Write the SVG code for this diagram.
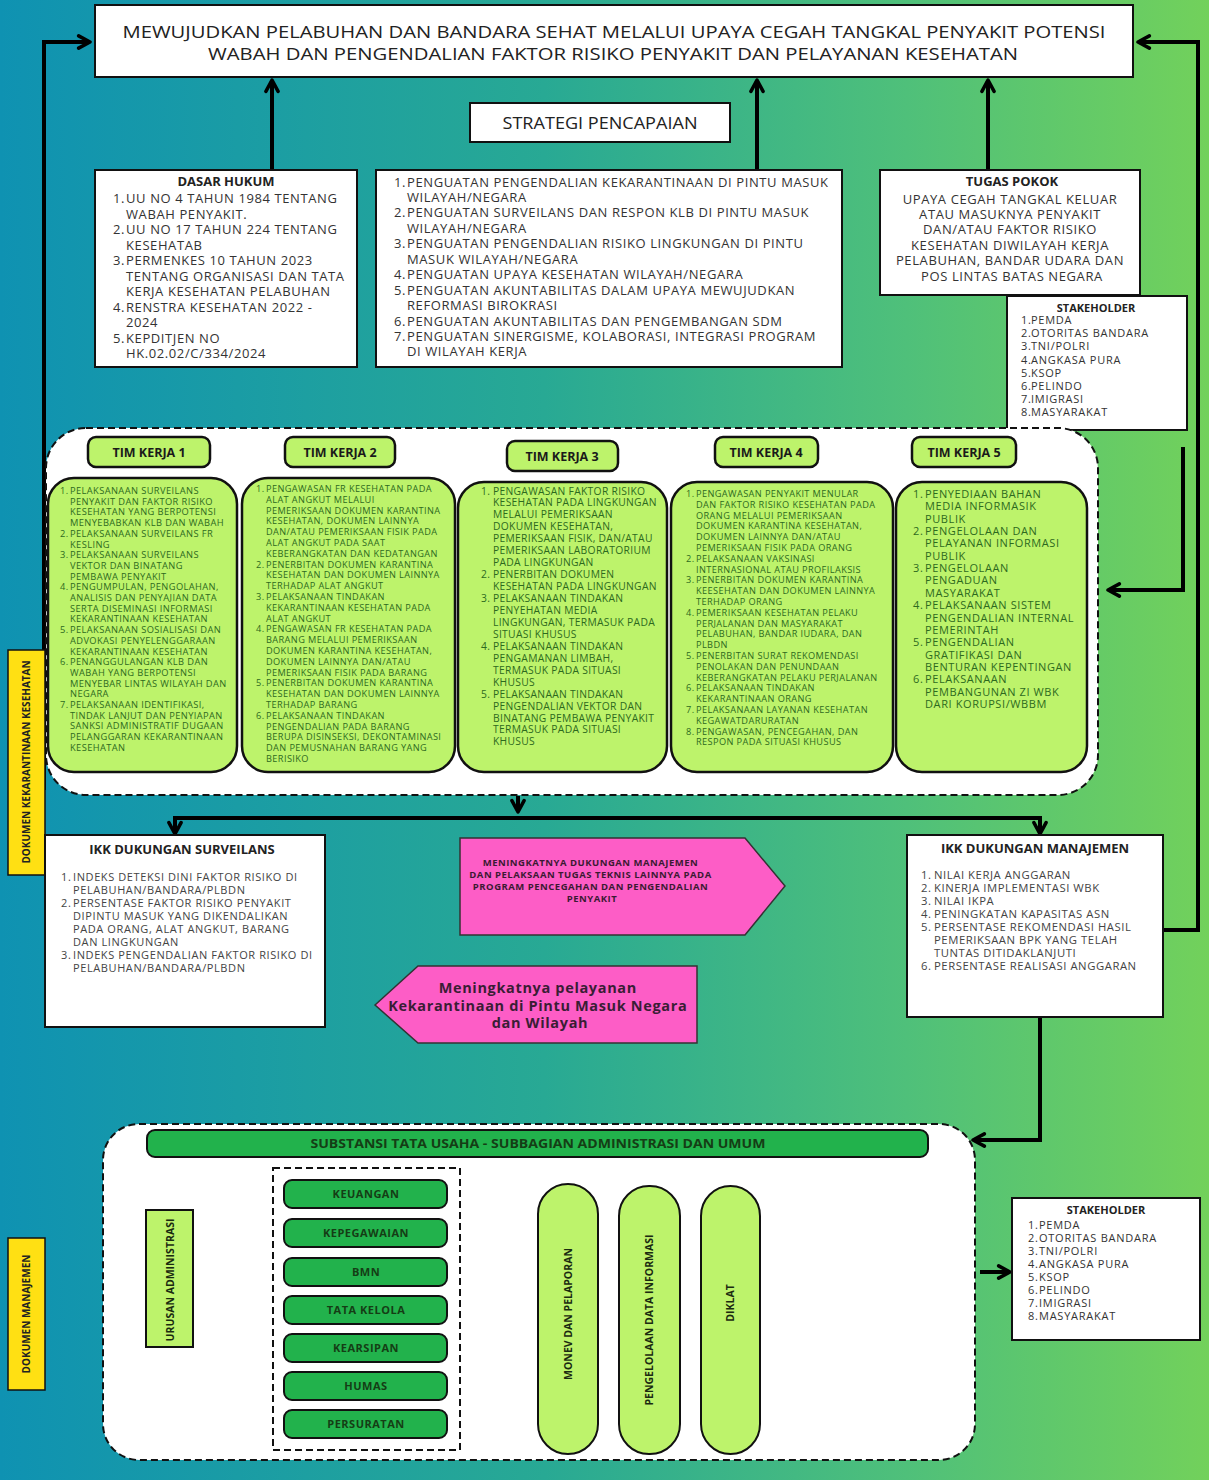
<svg xmlns="http://www.w3.org/2000/svg" width="1209" height="1480" viewBox="0 0 1209 1480">
<defs>
<linearGradient id="bg" x1="0" y1="0" x2="1" y2="0">
<stop offset="0" stop-color="#0f92b2"/>
<stop offset="0.45" stop-color="#28a994"/>
<stop offset="0.75" stop-color="#4fc07a"/>
<stop offset="1" stop-color="#72d15b"/>
</linearGradient>
<marker id="ah" viewBox="0 0 10 10" refX="8.6" refY="5" markerUnits="userSpaceOnUse" markerWidth="16" markerHeight="16" orient="auto">
<path d="M1.5,1.2 L8.6,5 L1.5,8.8" fill="none" stroke="#000" stroke-width="2.2" stroke-linecap="round" stroke-linejoin="round"/>
</marker>
<style>
text{font-family:"Open Sans","Liberation Sans",sans-serif;}
.box{fill:#fff;stroke:#111;stroke-width:2;}
.dash{fill:#fff;stroke:#111;stroke-width:2;stroke-dasharray:7 4;}
.tk{fill:#bdf36b;stroke:#111;stroke-width:2.5;}
.g{fill:#22b24c;stroke:#111;stroke-width:2;}
.lg{fill:#bdf36b;stroke:#111;stroke-width:2;}
.yl{fill:#ffe013;stroke:#111;stroke-width:1.5;}
.pk{fill:#fd5dc6;stroke:#333;stroke-width:1.5;}
.con{fill:none;stroke:#000;stroke-width:4;stroke-linejoin:miter;}
.t13{font-size:13px;fill:#333;letter-spacing:0.6px;}
.hd{font-size:13px;font-weight:bold;fill:#222;}
.tkh{font-size:12.5px;font-weight:bold;fill:#1a1a1a;}
.tkl{fill:#2d6a1e;}
.sh{font-size:11px;fill:#333;letter-spacing:0.75px;}
.ikk{fill:#444;}
.gt{font-size:11px;font-weight:bold;fill:#153d15;letter-spacing:0.5px;}
.vt{font-size:10.5px;font-weight:bold;fill:#1a2a10;}
</style>
</defs>
<rect x="0" y="0" width="1209" height="1480" fill="url(#bg)"/>

<g id="connectors">
<path class="con" d="M44,790 V42 H90" marker-end="url(#ah)"/>
<path class="con" d="M1163,930 H1198 V42 H1138" marker-end="url(#ah)"/>
<path class="con" d="M1183,447 V590 H1108" marker-end="url(#ah)"/>
<path class="con" d="M272,170 V80" marker-end="url(#ah)"/>
<path class="con" d="M757,170 V80" marker-end="url(#ah)"/>
<path class="con" d="M988,170 V80" marker-end="url(#ah)"/>
<path class="con" d="M518,796 V812" marker-end="url(#ah)"/>
<path class="con" d="M175,818 H1040"/>
<path class="con" d="M175,816 V834" marker-end="url(#ah)"/>
<path class="con" d="M1040,816 V834" marker-end="url(#ah)"/>
<path class="con" d="M1040,1017 V1140 H973" marker-end="url(#ah)"/>
<path class="con" d="M980,1272 H1010" marker-end="url(#ah)"/>
<path class="con" d="M272,1290 H198" marker-end="url(#ah)"/>
</g>

<g id="title">
<rect class="box" x="95" y="5" width="1038" height="72"/>
<text x="614" y="37.5" text-anchor="middle" font-size="16.5" fill="#222" textLength="983" lengthAdjust="spacingAndGlyphs">MEWUJUDKAN PELABUHAN DAN BANDARA SEHAT MELALUI UPAYA CEGAH TANGKAL PENYAKIT POTENSI</text>
<text x="613" y="60" text-anchor="middle" font-size="16.5" fill="#222" textLength="810" lengthAdjust="spacingAndGlyphs">WABAH DAN PENGENDALIAN FAKTOR RISIKO PENYAKIT DAN PELAYANAN KESEHATAN</text>
</g>

<g id="strategi">
<rect class="box" x="470" y="103" width="260" height="39"/>
<text x="600" y="129" text-anchor="middle" font-size="16.5" fill="#222" textLength="195" lengthAdjust="spacingAndGlyphs">STRATEGI PENCAPAIAN</text>
</g>

<g id="dasar-hukum">
<rect class="box" x="95" y="170" width="262" height="197"/>
<text class="hd" x="226" y="186" text-anchor="middle">DASAR HUKUM</text>
<text class="t13" y="203">
<tspan x="113">1.</tspan><tspan x="126">UU NO 4 TAHUN 1984 TENTANG</tspan>
<tspan x="126" dy="15.5">WABAH PENYAKIT.</tspan>
<tspan x="113" dy="15.5">2.</tspan><tspan x="126">UU NO 17 TAHUN 224 TENTANG</tspan>
<tspan x="126" dy="15.5">KESEHATAB</tspan>
<tspan x="113" dy="15.5">3.</tspan><tspan x="126">PERMENKES 10 TAHUN 2023</tspan>
<tspan x="126" dy="15.5">TENTANG ORGANISASI DAN TATA</tspan>
<tspan x="126" dy="15.5">KERJA KESEHATAN PELABUHAN</tspan>
<tspan x="113" dy="15.5">4.</tspan><tspan x="126">RENSTRA KESEHATAN 2022 -</tspan>
<tspan x="126" dy="15.5">2024</tspan>
<tspan x="113" dy="15.5">5.</tspan><tspan x="126">KEPDITJEN NO</tspan>
<tspan x="126" dy="15.5">HK.02.02/C/334/2024</tspan>
</text>
</g>

<g id="strategi-list">
<rect class="box" x="376" y="170" width="466" height="197"/>
<text class="t13" y="186.5">
<tspan x="394">1.</tspan><tspan x="407">PENGUATAN PENGENDALIAN KEKARANTINAAN DI PINTU MASUK</tspan>
<tspan x="407" dy="15.45">WILAYAH/NEGARA</tspan>
<tspan x="394" dy="15.45">2.</tspan><tspan x="407">PENGUATAN SURVEILANS DAN RESPON KLB DI PINTU MASUK</tspan>
<tspan x="407" dy="15.45">WILAYAH/NEGARA</tspan>
<tspan x="394" dy="15.45">3.</tspan><tspan x="407">PENGUATAN PENGENDALIAN RISIKO LINGKUNGAN DI PINTU</tspan>
<tspan x="407" dy="15.45">MASUK WILAYAH/NEGARA</tspan>
<tspan x="394" dy="15.45">4.</tspan><tspan x="407">PENGUATAN UPAYA KESEHATAN WILAYAH/NEGARA</tspan>
<tspan x="394" dy="15.45">5.</tspan><tspan x="407">PENGUATAN AKUNTABILITAS DALAM UPAYA MEWUJUDKAN</tspan>
<tspan x="407" dy="15.45">REFORMASI BIROKRASI</tspan>
<tspan x="394" dy="15.45">6.</tspan><tspan x="407">PENGUATAN AKUNTABILITAS DAN PENGEMBANGAN SDM</tspan>
<tspan x="394" dy="15.45">7.</tspan><tspan x="407">PENGUATAN SINERGISME, KOLABORASI, INTEGRASI PROGRAM</tspan>
<tspan x="407" dy="15.45">DI WILAYAH KERJA</tspan>
</text>
</g>

<g id="tugas-pokok">
<rect class="box" x="880" y="170" width="260" height="125"/>
<text class="hd" x="1012" y="186" text-anchor="middle">TUGAS POKOK</text>
<text class="t13" y="203.5" text-anchor="middle">
<tspan x="1012">UPAYA CEGAH TANGKAL KELUAR</tspan>
<tspan x="1012" dy="15.4">ATAU MASUKNYA PENYAKIT</tspan>
<tspan x="1012" dy="15.4">DAN/ATAU FAKTOR RISIKO</tspan>
<tspan x="1012" dy="15.4">KESEHATAN DIWILAYAH KERJA</tspan>
<tspan x="1012" dy="15.4">PELABUHAN, BANDAR UDARA DAN</tspan>
<tspan x="1012" dy="15.4">POS LINTAS BATAS NEGARA</tspan>
</text>
</g>

<g id="stakeholder-top">
<rect class="box" x="1007" y="296" width="180" height="134"/>
<text x="1096" y="311.6" text-anchor="middle" font-size="11" font-weight="bold" fill="#222">STAKEHOLDER</text>
<text class="sh" y="324.2">
<tspan x="1021">1.</tspan><tspan x="1031">PEMDA</tspan>
<tspan x="1021" dy="13.1">2.</tspan><tspan x="1031">OTORITAS BANDARA</tspan>
<tspan x="1021" dy="13.1">3.</tspan><tspan x="1031">TNI/POLRI</tspan>
<tspan x="1021" dy="13.1">4.</tspan><tspan x="1031">ANGKASA PURA</tspan>
<tspan x="1021" dy="13.1">5.</tspan><tspan x="1031">KSOP</tspan>
<tspan x="1021" dy="13.1">6.</tspan><tspan x="1031">PELINDO</tspan>
<tspan x="1021" dy="13.1">7.</tspan><tspan x="1031">IMIGRASI</tspan>
<tspan x="1021" dy="13.1">8.</tspan><tspan x="1031">MASYARAKAT</tspan>
</text>
</g>

<g id="tim-kerja-container">
<rect class="dash" x="46" y="428" width="1052" height="367" rx="40"/>
</g>

<g id="tim-kerja-1">
<rect class="tk" x="88" y="437" width="122" height="30" rx="8"/>
<text class="tkh" x="149" y="456.5" text-anchor="middle">TIM KERJA 1</text>
<rect class="tk" x="48" y="478" width="189" height="294" rx="26"/>
<text class="tkl" font-size="9.3" letter-spacing="0.4" y="494">
<tspan x="60">1.</tspan><tspan x="70">PELAKSANAAN SURVEILANS</tspan>
<tspan x="70" dy="10.7">PENYAKIT DAN FAKTOR RISIKO</tspan>
<tspan x="70" dy="10.7">KESEHATAN YANG BERPOTENSI</tspan>
<tspan x="70" dy="10.7">MENYEBABKAN KLB DAN WABAH</tspan>
<tspan x="60" dy="10.7">2.</tspan><tspan x="70">PELAKSANAAN SURVEILANS FR</tspan>
<tspan x="70" dy="10.7">KESLING</tspan>
<tspan x="60" dy="10.7">3.</tspan><tspan x="70">PELAKSANAAN SURVEILANS</tspan>
<tspan x="70" dy="10.7">VEKTOR DAN BINATANG</tspan>
<tspan x="70" dy="10.7">PEMBAWA PENYAKIT</tspan>
<tspan x="60" dy="10.7">4.</tspan><tspan x="70">PENGUMPULAN, PENGOLAHAN,</tspan>
<tspan x="70" dy="10.7">ANALISIS DAN PENYAJIAN DATA</tspan>
<tspan x="70" dy="10.7">SERTA DISEMINASI INFORMASI</tspan>
<tspan x="70" dy="10.7">KEKARANTINAAN KESEHATAN</tspan>
<tspan x="60" dy="10.7">5.</tspan><tspan x="70">PELAKSANAAN SOSIALISASI DAN</tspan>
<tspan x="70" dy="10.7">ADVOKASI PENYELENGGARAAN</tspan>
<tspan x="70" dy="10.7">KEKARANTINAAN KESEHATAN</tspan>
<tspan x="60" dy="10.7">6.</tspan><tspan x="70">PENANGGULANGAN KLB DAN</tspan>
<tspan x="70" dy="10.7">WABAH YANG BERPOTENSI</tspan>
<tspan x="70" dy="10.7">MENYEBAR LINTAS WILAYAH DAN</tspan>
<tspan x="70" dy="10.7">NEGARA</tspan>
<tspan x="60" dy="10.7">7.</tspan><tspan x="70">PELAKSANAAN IDENTIFIKASI,</tspan>
<tspan x="70" dy="10.7">TINDAK LANJUT DAN PENYIAPAN</tspan>
<tspan x="70" dy="10.7">SANKSI ADMINISTRATIF  DUGAAN</tspan>
<tspan x="70" dy="10.7">PELANGGARAN KEKARANTINAAN</tspan>
<tspan x="70" dy="10.7">KESEHATAN</tspan>
</text>
</g>

<g id="tim-kerja-2">
<rect class="tk" x="285" y="437" width="110" height="30" rx="8"/>
<text class="tkh" x="340" y="456.5" text-anchor="middle">TIM KERJA 2</text>
<rect class="tk" x="242" y="478" width="213" height="294" rx="26"/>
<text class="tkl" font-size="9.2" letter-spacing="0.4" y="492">
<tspan x="256">1.</tspan><tspan x="266">PENGAWASAN FR KESEHATAN PADA</tspan>
<tspan x="266" dy="10.8">ALAT ANGKUT MELALUI</tspan>
<tspan x="266" dy="10.8">PEMERIKSAAN DOKUMEN KARANTINA</tspan>
<tspan x="266" dy="10.8">KESEHATAN, DOKUMEN LAINNYA</tspan>
<tspan x="266" dy="10.8">DAN/ATAU PEMERIKSAAN FISIK PADA</tspan>
<tspan x="266" dy="10.8">ALAT ANGKUT PADA SAAT</tspan>
<tspan x="266" dy="10.8">KEBERANGKATAN DAN KEDATANGAN</tspan>
<tspan x="256" dy="10.8">2.</tspan><tspan x="266">PENERBITAN DOKUMEN KARANTINA</tspan>
<tspan x="266" dy="10.8">KESEHATAN DAN DOKUMEN LAINNYA</tspan>
<tspan x="266" dy="10.8">TERHADAP ALAT ANGKUT</tspan>
<tspan x="256" dy="10.8">3.</tspan><tspan x="266">PELAKSANAAN TINDAKAN</tspan>
<tspan x="266" dy="10.8">KEKARANTINAAN KESEHATAN PADA</tspan>
<tspan x="266" dy="10.8">ALAT ANGKUT</tspan>
<tspan x="256" dy="10.8">4.</tspan><tspan x="266">PENGAWASAN FR KESEHATAN PADA</tspan>
<tspan x="266" dy="10.8">BARANG MELALUI PEMERIKSAAN</tspan>
<tspan x="266" dy="10.8">DOKUMEN KARANTINA KESEHATAN,</tspan>
<tspan x="266" dy="10.8">DOKUMEN LAINNYA DAN/ATAU</tspan>
<tspan x="266" dy="10.8">PEMERIKSAAN FISIK PADA BARANG</tspan>
<tspan x="256" dy="10.8">5.</tspan><tspan x="266">PENERBITAN DOKUMEN KARANTINA</tspan>
<tspan x="266" dy="10.8">KESEHATAN DAN DOKUMEN LAINNYA</tspan>
<tspan x="266" dy="10.8">TERHADAP BARANG</tspan>
<tspan x="256" dy="10.8">6.</tspan><tspan x="266">PELAKSANAAN TINDAKAN</tspan>
<tspan x="266" dy="10.8">PENGENDALIAN PADA BARANG</tspan>
<tspan x="266" dy="10.8">BERUPA DISINSEKSI, DEKONTAMINASI</tspan>
<tspan x="266" dy="10.8">DAN PEMUSNAHAN BARANG YANG</tspan>
<tspan x="266" dy="10.8">BERISIKO</tspan>
</text>
</g>

<g id="tim-kerja-3">
<rect class="tk" x="507" y="441" width="111" height="30" rx="8"/>
<text class="tkh" x="562" y="460.5" text-anchor="middle">TIM KERJA 3</text>
<rect class="tk" x="458" y="482" width="209" height="290" rx="26"/>
<text class="tkl" font-size="10.3" letter-spacing="0.3" y="494.5">
<tspan x="481">1.</tspan><tspan x="493">PENGAWASAN FAKTOR RISIKO</tspan>
<tspan x="493" dy="11.95">KESEHATAN PADA LINGKUNGAN</tspan>
<tspan x="493" dy="11.95">MELALUI PEMERIKSAAN</tspan>
<tspan x="493" dy="11.95">DOKUMEN KESEHATAN,</tspan>
<tspan x="493" dy="11.95">PEMERIKSAAN FISIK, DAN/ATAU</tspan>
<tspan x="493" dy="11.95">PEMERIKSAAN LABORATORIUM</tspan>
<tspan x="493" dy="11.95">PADA LINGKUNGAN</tspan>
<tspan x="481" dy="11.95">2.</tspan><tspan x="493">PENERBITAN DOKUMEN</tspan>
<tspan x="493" dy="11.95">KESEHATAN PADA LINGKUNGAN</tspan>
<tspan x="481" dy="11.95">3.</tspan><tspan x="493">PELAKSANAAN TINDAKAN</tspan>
<tspan x="493" dy="11.95">PENYEHATAN MEDIA</tspan>
<tspan x="493" dy="11.95">LINGKUNGAN, TERMASUK PADA</tspan>
<tspan x="493" dy="11.95">SITUASI KHUSUS</tspan>
<tspan x="481" dy="11.95">4.</tspan><tspan x="493">PELAKSANAAN TINDAKAN</tspan>
<tspan x="493" dy="11.95">PENGAMANAN LIMBAH,</tspan>
<tspan x="493" dy="11.95">TERMASUK PADA SITUASI</tspan>
<tspan x="493" dy="11.95">KHUSUS</tspan>
<tspan x="481" dy="11.95">5.</tspan><tspan x="493">PELAKSANAAN TINDAKAN</tspan>
<tspan x="493" dy="11.95">PENGENDALIAN VEKTOR DAN</tspan>
<tspan x="493" dy="11.95">BINATANG PEMBAWA PENYAKIT</tspan>
<tspan x="493" dy="11.95">TERMASUK PADA SITUASI</tspan>
<tspan x="493" dy="11.95">KHUSUS</tspan>
</text>
</g>

<g id="tim-kerja-4">
<rect class="tk" x="715" y="437" width="103" height="30" rx="8"/>
<text class="tkh" x="766" y="456.5" text-anchor="middle">TIM KERJA 4</text>
<rect class="tk" x="671" y="482" width="222" height="290" rx="26"/>
<text class="tkl" font-size="9.2" letter-spacing="0.4" y="497">
<tspan x="686">1.</tspan><tspan x="696">PENGAWASAN PENYAKIT MENULAR</tspan>
<tspan x="696" dy="10.8">DAN FAKTOR RISIKO KESEHATAN PADA</tspan>
<tspan x="696" dy="10.8">ORANG MELALUI PEMERIKSAAN</tspan>
<tspan x="696" dy="10.8">DOKUMEN KARANTINA KESEHATAN,</tspan>
<tspan x="696" dy="10.8">DOKUMEN LAINNYA DAN/ATAU</tspan>
<tspan x="696" dy="10.8">PEMERIKSAAN FISIK PADA ORANG</tspan>
<tspan x="686" dy="10.8">2.</tspan><tspan x="696">PELAKSANAAN VAKSINASI</tspan>
<tspan x="696" dy="10.8">INTERNASIONAL ATAU PROFILAKSIS</tspan>
<tspan x="686" dy="10.8">3.</tspan><tspan x="696">PENERBITAN DOKUMEN KARANTINA</tspan>
<tspan x="696" dy="10.8">KEESEHATAN DAN DOKUMEN LAINNYA</tspan>
<tspan x="696" dy="10.8">TERHADAP ORANG</tspan>
<tspan x="686" dy="10.8">4.</tspan><tspan x="696">PEMERIKSAAN KESEHATAN PELAKU</tspan>
<tspan x="696" dy="10.8">PERJALANAN DAN MASYARAKAT</tspan>
<tspan x="696" dy="10.8">PELABUHAN, BANDAR IUDARA, DAN</tspan>
<tspan x="696" dy="10.8">PLBDN</tspan>
<tspan x="686" dy="10.8">5.</tspan><tspan x="696">PENERBITAN SURAT REKOMENDASI</tspan>
<tspan x="696" dy="10.8">PENOLAKAN DAN PENUNDAAN</tspan>
<tspan x="696" dy="10.8">KEBERANGKATAN PELAKU PERJALANAN</tspan>
<tspan x="686" dy="10.8">6.</tspan><tspan x="696">PELAKSANAAN TINDAKAN</tspan>
<tspan x="696" dy="10.8">KEKARANTINAAN ORANG</tspan>
<tspan x="686" dy="10.8">7.</tspan><tspan x="696">PELAKSANAAN LAYANAN KESEHATAN</tspan>
<tspan x="696" dy="10.8">KEGAWATDARURATAN</tspan>
<tspan x="686" dy="10.8">8.</tspan><tspan x="696">PENGAWASAN, PENCEGAHAN, DAN</tspan>
<tspan x="696" dy="10.8">RESPON PADA SITUASI KHUSUS</tspan>
</text>
</g>

<g id="tim-kerja-5">
<rect class="tk" x="912" y="437" width="104" height="30" rx="8"/>
<text class="tkh" x="964" y="456.5" text-anchor="middle">TIM KERJA 5</text>
<rect class="tk" x="896" y="482" width="191" height="290" rx="26"/>
<text class="tkl" font-size="11" letter-spacing="0.6" y="498">
<tspan x="913">1.</tspan><tspan x="925">PENYEDIAAN BAHAN</tspan>
<tspan x="925" dy="12.35">MEDIA INFORMASIK</tspan>
<tspan x="925" dy="12.35">PUBLIK</tspan>
<tspan x="913" dy="12.35">2.</tspan><tspan x="925">PENGELOLAAN DAN</tspan>
<tspan x="925" dy="12.35">PELAYANAN INFORMASI</tspan>
<tspan x="925" dy="12.35">PUBLIK</tspan>
<tspan x="913" dy="12.35">3.</tspan><tspan x="925">PENGELOLAAN</tspan>
<tspan x="925" dy="12.35">PENGADUAN</tspan>
<tspan x="925" dy="12.35">MASYARAKAT</tspan>
<tspan x="913" dy="12.35">4.</tspan><tspan x="925">PELAKSANAAN SISTEM</tspan>
<tspan x="925" dy="12.35">PENGENDALIAN INTERNAL</tspan>
<tspan x="925" dy="12.35">PEMERINTAH</tspan>
<tspan x="913" dy="12.35">5.</tspan><tspan x="925">PENGENDALIAN</tspan>
<tspan x="925" dy="12.35">GRATIFIKASI DAN</tspan>
<tspan x="925" dy="12.35">BENTURAN KEPENTINGAN</tspan>
<tspan x="913" dy="12.35">6.</tspan><tspan x="925">PELAKSANAAN</tspan>
<tspan x="925" dy="12.35">PEMBANGUNAN ZI WBK</tspan>
<tspan x="925" dy="12.35">DARI KORUPSI/WBBM</tspan>
</text>
</g>

<g id="label-dokumen-kekarantinaan">
<rect class="yl" x="8" y="650" width="37" height="225"/>
<text x="0" y="0" transform="translate(29.5,762) rotate(-90)" text-anchor="middle" font-size="10" font-weight="bold" fill="#222">DOKUMEN KEKARANTINAAN KESEHATAN</text>
</g>

<g id="ikk-surveilans">
<rect class="box" x="45" y="835" width="280" height="192"/>
<text class="hd" x="182" y="853.5" text-anchor="middle">IKK DUKUNGAN SURVEILANS</text>
<text class="ikk" font-size="11" letter-spacing="0.6" y="881">
<tspan x="61">1.</tspan><tspan x="73">INDEKS DETEKSI DINI FAKTOR RISIKO DI</tspan>
<tspan x="73" dy="13">PELABUHAN/BANDARA/PLBDN</tspan>
<tspan x="61" dy="13">2.</tspan><tspan x="73">PERSENTASE FAKTOR RISIKO PENYAKIT</tspan>
<tspan x="73" dy="13">DIPINTU MASUK YANG DIKENDALIKAN</tspan>
<tspan x="73" dy="13">PADA ORANG, ALAT ANGKUT, BARANG</tspan>
<tspan x="73" dy="13">DAN LINGKUNGAN</tspan>
<tspan x="61" dy="13">3.</tspan><tspan x="73">INDEKS PENGENDALIAN FAKTOR RISIKO DI</tspan>
<tspan x="73" dy="13">PELABUHAN/BANDARA/PLBDN</tspan>
</text>
</g>

<g id="sasaran-manajemen">
<polygon class="pk" points="460,838 745,838 785,886 745,935 460,935"/>
<text font-size="9.5" font-weight="bold" letter-spacing="0.5" fill="#3b1a33" text-anchor="middle" y="865.5">
<tspan x="592">MENINGKATNYA DUKUNGAN MANAJEMEN</tspan>
<tspan x="592" dy="12.3">DAN PELAKSAAN TUGAS TEKNIS LAINNYA PADA</tspan>
<tspan x="592" dy="12.3">PROGRAM PENCEGAHAN DAN PENGENDALIAN</tspan>
<tspan x="592" dy="12.3">PENYAKIT</tspan>
</text>
</g>

<g id="sasaran-pelayanan">
<polygon class="pk" points="375,1005 418,966 697,966 697,1043 418,1043"/>
<text font-size="14.5" font-weight="bold" letter-spacing="0.65" fill="#3a1d35" text-anchor="middle" y="993">
<tspan x="540">Meningkatnya pelayanan</tspan>
<tspan x="540" dy="17.5">Kekarantinaan di Pintu Masuk Negara</tspan>
<tspan x="540" dy="17.5">dan Wilayah</tspan>
</text>
</g>

<g id="ikk-manajemen">
<rect class="box" x="907" y="835" width="256" height="182"/>
<text class="hd" x="1035" y="852.5" text-anchor="middle">IKK DUKUNGAN MANAJEMEN</text>
<text class="ikk" font-size="11.3" letter-spacing="0.55" y="878.5">
<tspan x="921">1.</tspan><tspan x="934">NILAI KERJA ANGGARAN</tspan>
<tspan x="921" dy="13">2.</tspan><tspan x="934">KINERJA IMPLEMENTASI WBK</tspan>
<tspan x="921" dy="13">3.</tspan><tspan x="934">NILAI IKPA</tspan>
<tspan x="921" dy="13">4.</tspan><tspan x="934">PENINGKATAN KAPASITAS ASN</tspan>
<tspan x="921" dy="13">5.</tspan><tspan x="934">PERSENTASE REKOMENDASI HASIL</tspan>
<tspan x="934" dy="13">PEMERIKSAAN BPK YANG TELAH</tspan>
<tspan x="934" dy="13">TUNTAS DITIDAKLANJUTI</tspan>
<tspan x="921" dy="13">6.</tspan><tspan x="934">PERSENTASE REALISASI ANGGARAN</tspan>
</text>
</g>

<g id="tata-usaha-container">
<rect class="dash" x="103" y="1124" width="872" height="336" rx="36"/>
</g>

<g id="substansi-tata-usaha">
<rect class="g" x="147" y="1130" width="781" height="27" rx="8"/>
<text x="538" y="1148" text-anchor="middle" font-size="13" font-weight="bold" fill="#153d15" textLength="455" lengthAdjust="spacingAndGlyphs">SUBSTANSI TATA USAHA - SUBBAGIAN ADMINISTRASI DAN UMUM</text>
</g>

<g id="urusan-administrasi">
<rect class="lg" x="146" y="1210" width="47" height="137"/>
<text class="vt" x="0" y="0" transform="translate(173.5,1280) rotate(-90)" text-anchor="middle">URUSAN ADMINISTRASI</text>
</g>

<g id="unit-group">
<rect x="273" y="1168" width="187" height="282" fill="none" stroke="#111" stroke-width="2" stroke-dasharray="7 4"/>
</g>
<g id="keuangan"><rect class="g" x="284" y="1180" width="163" height="28" rx="8"/><text class="gt" x="366" y="1198" text-anchor="middle">KEUANGAN</text></g>
<g id="kepegawaian"><rect class="g" x="284" y="1219" width="163" height="28" rx="8"/><text class="gt" x="366" y="1237" text-anchor="middle">KEPEGAWAIAN</text></g>
<g id="bmn"><rect class="g" x="284" y="1258" width="163" height="28" rx="8"/><text class="gt" x="366" y="1276" text-anchor="middle">BMN</text></g>
<g id="tata-kelola"><rect class="g" x="284" y="1296" width="163" height="28" rx="8"/><text class="gt" x="366" y="1314" text-anchor="middle">TATA KELOLA</text></g>
<g id="kearsipan"><rect class="g" x="284" y="1334" width="163" height="28" rx="8"/><text class="gt" x="366" y="1352" text-anchor="middle">KEARSIPAN</text></g>
<g id="humas"><rect class="g" x="284" y="1372" width="163" height="28" rx="8"/><text class="gt" x="366" y="1390" text-anchor="middle">HUMAS</text></g>
<g id="persuratan"><rect class="g" x="284" y="1410" width="163" height="28" rx="8"/><text class="gt" x="366" y="1428" text-anchor="middle">PERSURATAN</text></g>

<g id="monev">
<rect class="lg" x="538" y="1184" width="60" height="270" rx="30"/>
<text class="vt" x="0" y="0" transform="translate(571.5,1314) rotate(-90)" text-anchor="middle">MONEV DAN PELAPORAN</text>
</g>
<g id="pengelolaan-data">
<rect class="lg" x="619" y="1186" width="61" height="268" rx="30"/>
<text class="vt" x="0" y="0" transform="translate(653,1320) rotate(-90)" text-anchor="middle">PENGELOLAAN DATA INFORMASI</text>
</g>
<g id="diklat">
<rect class="lg" x="701" y="1186" width="59" height="268" rx="30"/>
<text class="vt" x="0" y="0" transform="translate(734,1303) rotate(-90)" text-anchor="middle">DIKLAT</text>
</g>

<g id="stakeholder-bottom">
<rect class="box" x="1012" y="1198" width="188" height="142"/>
<text x="1106" y="1214" text-anchor="middle" font-size="11" font-weight="bold" fill="#222">STAKEHOLDER</text>
<text class="sh" y="1228.5">
<tspan x="1028">1.</tspan><tspan x="1039">PEMDA</tspan>
<tspan x="1028" dy="13.1">2.</tspan><tspan x="1039">OTORITAS BANDARA</tspan>
<tspan x="1028" dy="13.1">3.</tspan><tspan x="1039">TNI/POLRI</tspan>
<tspan x="1028" dy="13.1">4.</tspan><tspan x="1039">ANGKASA PURA</tspan>
<tspan x="1028" dy="13.1">5.</tspan><tspan x="1039">KSOP</tspan>
<tspan x="1028" dy="13.1">6.</tspan><tspan x="1039">PELINDO</tspan>
<tspan x="1028" dy="13.1">7.</tspan><tspan x="1039">IMIGRASI</tspan>
<tspan x="1028" dy="13.1">8.</tspan><tspan x="1039">MASYARAKAT</tspan>
</text>
</g>

<g id="label-dokumen-manajemen">
<rect class="yl" x="8" y="1238" width="37" height="152"/>
<text x="0" y="0" transform="translate(29.5,1314) rotate(-90)" text-anchor="middle" font-size="10" font-weight="bold" fill="#222">DOKUMEN MANAJEMEN</text>
</g>
</svg>
